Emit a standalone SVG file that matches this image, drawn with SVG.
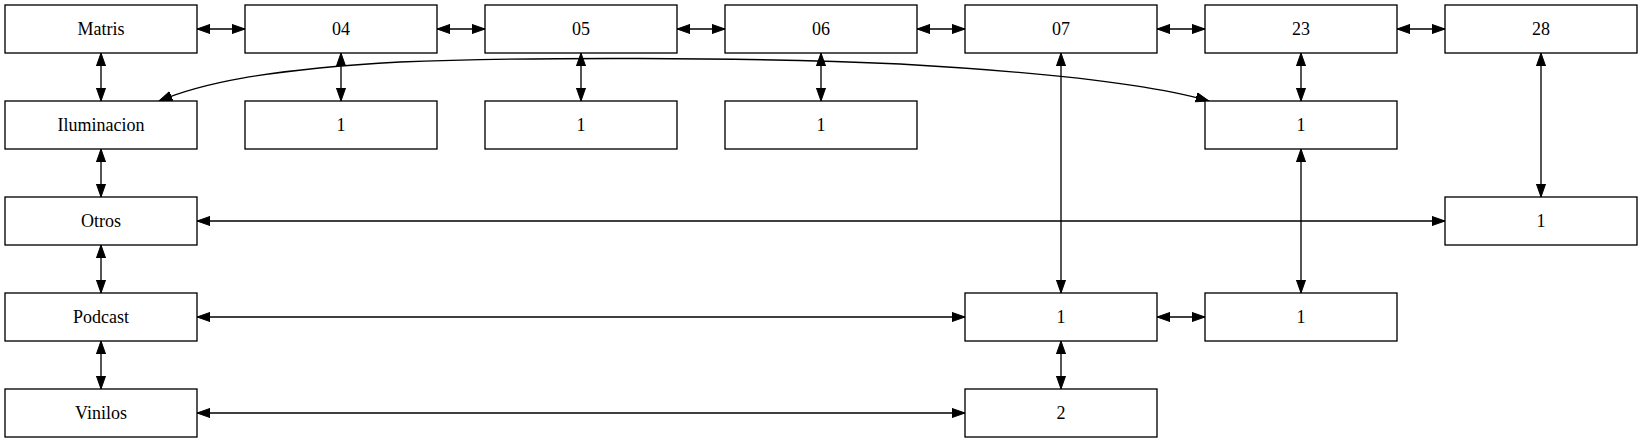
<svg xmlns="http://www.w3.org/2000/svg" width="1643" height="443" viewBox="0 0 1643 443">
<style>
.node rect{fill:#fff;stroke:#000;stroke-width:1.33}
.node text{font-family:"Liberation Serif","Times New Roman",serif;font-size:18px;text-anchor:middle;fill:#000}
.edges path{fill:none;stroke:#000;stroke-width:1.33;marker-start:url(#ah);marker-end:url(#ah)}
</style>
<defs>
<marker id="ah" markerUnits="userSpaceOnUse" markerWidth="16" markerHeight="12" refX="13.3" refY="5.67" orient="auto-start-reverse">
<path d="M0,1 L13.3,5.67 L0,10.33 Z" fill="#000" stroke="#000" stroke-width="1"/>
</marker>
</defs>
<rect width="1643" height="443" fill="#fff"/>
<g class="edges">
<path d="M197,29 L245,29"/>
<path d="M437,29 L485,29"/>
<path d="M677,29 L725,29"/>
<path d="M917,29 L965,29"/>
<path d="M1157,29 L1205,29"/>
<path d="M1397,29 L1445,29"/>
<path d="M101,53 L101,101"/>
<path d="M101,149 L101,197"/>
<path d="M101,245 L101,293"/>
<path d="M101,341 L101,389"/>
<path d="M341,53 L341,101"/>
<path d="M581,53 L581,101"/>
<path d="M821,53 L821,101"/>
<path d="M1061,53 L1061,293"/>
<path d="M1301,53 L1301,101"/>
<path d="M1301,149 L1301,293"/>
<path d="M1541,53 L1541,197"/>
<path d="M197,221 L1445,221"/>
<path d="M197,317 L965,317"/>
<path d="M1157,317 L1205,317"/>
<path d="M1061,341 L1061,389"/>
<path d="M197,413 L965,413"/>
<path d="M159,101 C200,84 260,70 400,62 C520,57 750,57 900,64 C1040,72 1150,84 1209,101"/>
</g>
<g id="n_matris" class="node"><rect x="5" y="5" width="192" height="48"/><text x="101" y="35">Matris</text></g>
<g id="n_04" class="node"><rect x="245" y="5" width="192" height="48"/><text x="341" y="35">04</text></g>
<g id="n_05" class="node"><rect x="485" y="5" width="192" height="48"/><text x="581" y="35">05</text></g>
<g id="n_06" class="node"><rect x="725" y="5" width="192" height="48"/><text x="821" y="35">06</text></g>
<g id="n_07" class="node"><rect x="965" y="5" width="192" height="48"/><text x="1061" y="35">07</text></g>
<g id="n_23" class="node"><rect x="1205" y="5" width="192" height="48"/><text x="1301" y="35">23</text></g>
<g id="n_28" class="node"><rect x="1445" y="5" width="192" height="48"/><text x="1541" y="35">28</text></g>
<g id="n_ilum" class="node"><rect x="5" y="101" width="192" height="48"/><text x="101" y="131">Iluminacion</text></g>
<g id="n_04_1" class="node"><rect x="245" y="101" width="192" height="48"/><text x="341" y="131">1</text></g>
<g id="n_05_1" class="node"><rect x="485" y="101" width="192" height="48"/><text x="581" y="131">1</text></g>
<g id="n_06_1" class="node"><rect x="725" y="101" width="192" height="48"/><text x="821" y="131">1</text></g>
<g id="n_23_1" class="node"><rect x="1205" y="101" width="192" height="48"/><text x="1301" y="131">1</text></g>
<g id="n_otros" class="node"><rect x="5" y="197" width="192" height="48"/><text x="101" y="227">Otros</text></g>
<g id="n_28_1" class="node"><rect x="1445" y="197" width="192" height="48"/><text x="1541" y="227">1</text></g>
<g id="n_podcast" class="node"><rect x="5" y="293" width="192" height="48"/><text x="101" y="323">Podcast</text></g>
<g id="n_07_1" class="node"><rect x="965" y="293" width="192" height="48"/><text x="1061" y="323">1</text></g>
<g id="n_23_1b" class="node"><rect x="1205" y="293" width="192" height="48"/><text x="1301" y="323">1</text></g>
<g id="n_vinilos" class="node"><rect x="5" y="389" width="192" height="48"/><text x="101" y="419">Vinilos</text></g>
<g id="n_07_2" class="node"><rect x="965" y="389" width="192" height="48"/><text x="1061" y="419">2</text></g>
</svg>
